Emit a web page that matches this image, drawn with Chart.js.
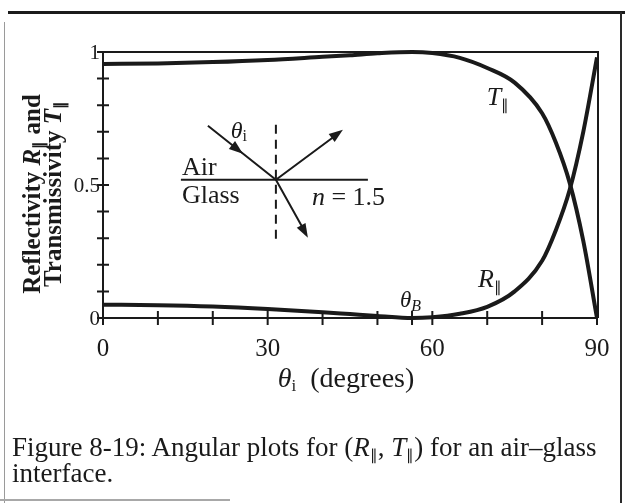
<!DOCTYPE html>
<html>
<head>
<meta charset="utf-8">
<title>Angular plots for R and T, air-glass interface</title>
<script src="https://cdn.jsdelivr.net/npm/chart.js@4.4.1/dist/chart.umd.min.js"></script>
<style>
  html, body { margin: 0; padding: 0; background: #fff; }
  #page { position: relative; width: 625px; height: 503px; overflow: hidden; background: #fff; }
  #graph { position: absolute; left: 0; top: 0; }
  /* page edges of the printed figure */
  .edge-top { position: absolute; left: 8px; top: 11px; width: 617px; border-top: 3px solid #1b1b1b; }
  .edge-left { position: absolute; left: 4px; top: 22px; height: 481px; border-left: 1px solid #9a9a9a; }
  .edge-right { position: absolute; left: 620px; top: 12px; height: 491px; border-left: 2px solid #2a2a2a; }
  .edge-bottom { position: absolute; left: 0; top: 499px; width: 230px; border-top: 2px solid #a8a8a8; }
  #caption {
    position: absolute; left: 12px; top: 434px;
    font: 27px "Liberation Serif", "Times New Roman", serif;
    line-height: 26px; color: #1a1a1a; white-space: nowrap;
  }
  #caption i { font-style: italic; }
  #caption sub { font-size: 15px; font-style: normal; vertical-align: -4px; line-height: 0; }
</style>
</head>
<body>
<div id="page">
  <canvas id="graph" width="625" height="420"></canvas>
  <div class="edge-top"></div>
  <div class="edge-left"></div>
  <div class="edge-right"></div>
  <div class="edge-bottom"></div>
  <div id="caption">Figure 8-19: Angular plots for (<i>R</i><sub>∥</sub>, <i>T</i><sub>∥</sub>) for an air–glass<br>interface.</div>
</div>
<script>
// incidence angle (degrees) and the two parallel-polarization curves
var angles   = [0, 10, 20, 30, 40, 45, 50, 56.3, 60, 65, 70, 75, 80, 82.5, 85, 87.5, 90];
var reflect  = [0.05, 0.048, 0.043, 0.034, 0.022, 0.015, 0.008, 0, 0.003, 0.016, 0.042, 0.1, 0.215, 0.33, 0.48, 0.7, 0.98];
var transmit = [0.955, 0.957, 0.962, 0.97, 0.982, 0.988, 0.995, 1, 0.996, 0.978, 0.94, 0.885, 0.77, 0.66, 0.51, 0.29, 0];

var xTicks = [0, 10, 20, 30, 40, 50, 60, 70, 80, 90];
var xLabels = [0, 30, 60, 90];
var brewsterAngle = 56.3;
var yTicks = [0, 0.1, 0.2, 0.3, 0.4, 0.5, 0.6, 0.7, 0.8, 0.9, 1];
var yLabels = [0, 0.5, 1];

var ink = '#1a1a1a';
var serif = '"Liberation Serif", "Times New Roman", serif';

var toPoints = function (ys) {
    return angles.map(function (a, i) { return { x: a, y: ys[i] }; });
};

// draw a row of text pieces (text, font, y shift) one after the other
function drawRuns(ctx, runs, x, y, align) {
    var total = 0;
    runs.forEach(function (r) { ctx.font = r[1]; total += ctx.measureText(r[0]).width; });
    var cx = align === 'center' ? x - total / 2 : x;
    ctx.textAlign = 'left';
    runs.forEach(function (r) {
        ctx.font = r[1];
        ctx.fillText(r[0], cx, y + (r[2] || 0));
        cx += ctx.measureText(r[0]).width;
    });
}

function arrowHead(ctx, x, y, ang) {
    ctx.save();
    ctx.translate(x, y);
    ctx.rotate(ang);
    ctx.beginPath();
    ctx.moveTo(0, 0);
    ctx.lineTo(-14, -5);
    ctx.lineTo(-14, 5);
    ctx.closePath();
    ctx.fill();
    ctx.restore();
}

var figurePlugin = {
    id: 'figure',
    beforeDatasetsDraw: function (chart) {
        var ctx = chart.ctx, xs = chart.scales.x, ys = chart.scales.y;
        var x0 = xs.getPixelForValue(0), x90 = xs.getPixelForValue(90);
        var y0 = ys.getPixelForValue(0), y1 = ys.getPixelForValue(1);
        ctx.save();
        ctx.strokeStyle = ink;
        ctx.fillStyle = ink;
        ctx.lineWidth = 2;

        // box round the plot
        ctx.beginPath();
        ctx.moveTo(x0 - 6, y1);
        ctx.lineTo(x90 + 1, y1);
        ctx.lineTo(x90 + 1, y0);
        ctx.moveTo(x0, y1);
        ctx.lineTo(x0, y0 + 7);
        ctx.moveTo(x0, y0);
        ctx.lineTo(x90 + 1, y0);
        ctx.stroke();

        // ticks crossing the axes
        ctx.beginPath();
        xTicks.concat([brewsterAngle]).forEach(function (v) {
            var px = xs.getPixelForValue(v);
            ctx.moveTo(px, y0 - 7);
            ctx.lineTo(px, y0 + 7);
        });
        yTicks.forEach(function (v) {
            var py = ys.getPixelForValue(v);
            ctx.moveTo(x0 - 6, py);
            ctx.lineTo(x0 + 6, py);
        });
        ctx.stroke();

        // tick labels
        ctx.font = '25px ' + serif;
        ctx.textAlign = 'center';
        ctx.textBaseline = 'alphabetic';
        xLabels.forEach(function (v) {
            ctx.fillText(String(v), xs.getPixelForValue(v), y0 + 38);
        });
        ctx.font = '21px ' + serif;
        ctx.textAlign = 'right';
        ctx.textBaseline = 'middle';
        yLabels.forEach(function (v) {
            ctx.fillText(String(v), x0 - 3, ys.getPixelForValue(v) + 1);
        });
        ctx.textBaseline = 'alphabetic';

        // axis titles
        var it = 'italic 28px ' + serif, rm = '28px ' + serif, sb = '17px ' + serif;
        drawRuns(ctx, [['θ', it], ['i', sb, 4], ['  (degrees)', rm]], (x0 + x90) / 2 - 4, y0 + 69, 'center');

        ctx.save();
        ctx.translate(40, 194);
        ctx.rotate(-Math.PI / 2);
        var bd = 'bold 25px ' + serif, bi = 'bold italic 25px ' + serif, bs = 'bold 15px ' + serif;
        drawRuns(ctx, [['Reflectivity ', bd], ['R', bi], ['∥', bs, 4], [' and', bd]], 0, 0, 'center');
        drawRuns(ctx, [['Transmissivity ', bd], ['T', bi], ['∥', bs, 4]], 0, 21, 'center');
        ctx.restore();

        // curve names
        var ci = 'italic 26px ' + serif, cs = '15px ' + serif;
        drawRuns(ctx, [['T', ci], ['∥', cs, 5]], xs.getPixelForValue(69.9), ys.getPixelForValue(0.8), 'left');
        drawRuns(ctx, [['R', ci], ['∥', cs, 5]], xs.getPixelForValue(68.3), ys.getPixelForValue(0.115), 'left');
        drawRuns(ctx, [['θ', 'italic 23px ' + serif], ['B', 'italic 16px ' + serif, 4]], xs.getPixelForValue(54.1), y0 - 11, 'left');

        // inset: ray diagram at the air-glass boundary
        var ox = xs.getPixelForValue(31.5), oy = ys.getPixelForValue(0.52);
        ctx.beginPath();
        ctx.moveTo(ox - 95, oy);
        ctx.lineTo(ox + 92, oy);
        ctx.stroke();

        ctx.save();
        ctx.setLineDash([9, 6]);
        ctx.beginPath();
        ctx.moveTo(ox, oy - 55);
        ctx.lineTo(ox, oy + 60);
        ctx.stroke();
        ctx.restore();

        // incident, reflected and transmitted rays
        ctx.beginPath();
        ctx.moveTo(ox - 68, oy - 54);
        ctx.lineTo(ox, oy);
        ctx.lineTo(ox + 62, oy - 46);
        ctx.moveTo(ox, oy);
        ctx.lineTo(ox + 29, oy + 52);
        ctx.stroke();
        arrowHead(ctx, ox - 33, oy - 26, Math.atan2(54, 68));
        arrowHead(ctx, ox + 67, oy - 50, Math.atan2(-50, 67));
        arrowHead(ctx, ox + 32, oy + 58, Math.atan2(58, 32));

        drawRuns(ctx, [['θ', 'italic 24px ' + serif], ['i', '16px ' + serif, 3]], ox - 37, oy - 42, 'center');
        ctx.font = '26px ' + serif;
        ctx.textAlign = 'left';
        ctx.fillText('Air', ox - 94, oy - 5);
        ctx.fillText('Glass', ox - 94, oy + 23);
        drawRuns(ctx, [['n', 'italic 26px ' + serif], [' = 1.5', '26px ' + serif]], ox + 36, oy + 25, 'left');

        ctx.restore();
    }
};

var graph = new Chart(document.getElementById('graph').getContext('2d'), {
    type: 'scatter',
    data: {
        datasets: [{
            label: 'T∥',
            data: toPoints(transmit),
            showLine: true,
            borderColor: ink,
            borderWidth: 4,
            pointRadius: 0,
            cubicInterpolationMode: 'monotone',
            clip: 8
        }, {
            label: 'R∥',
            data: toPoints(reflect),
            showLine: true,
            borderColor: ink,
            borderWidth: 4,
            pointRadius: 0,
            cubicInterpolationMode: 'monotone',
            clip: 8
        }]
    },
    options: {
        responsive: false,
        animation: false,
        events: [],
        layout: { padding: { left: 103, right: 28, top: 52, bottom: 102 } },
        scales: {
            x: { type: 'linear', min: 0, max: 90, display: false },
            y: { type: 'linear', min: 0, max: 1, display: false }
        },
        plugins: {
            legend: { display: false },
            tooltip: { enabled: false }
        }
    },
    plugins: [figurePlugin]
});
</script>
</body>
</html>
